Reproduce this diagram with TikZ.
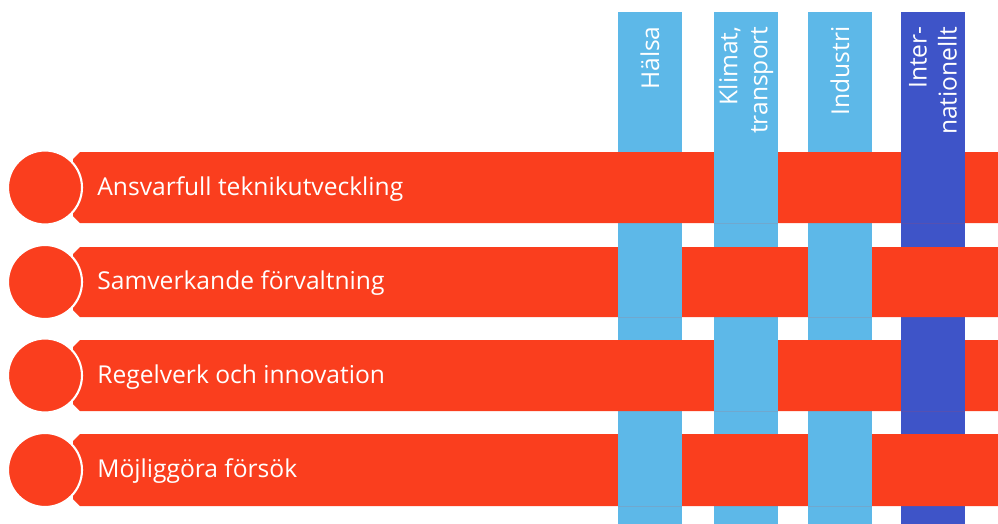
\documentclass[tikz,border=0pt]{standalone}
\usepackage{fontspec}
\setmainfont{Open Sans}
\usepackage{tikz}
\usepackage{xcolor}
\definecolor{tred}{RGB}{250,62,30}
\definecolor{tblue}{RGB}{93,184,232}
\definecolor{tdark}{RGB}{62,84,200}

\begin{document}
\begin{tikzpicture}[x=0.02cm,y=-0.02cm,
    lbl/.style={text=white,inner sep=0pt,font=\fontsize{14}{17}\selectfont},
    vlbl/.style={lbl,rotate=90,anchor=east,align=right},
    dot/.style={fill=tred,draw=white,line width=1.2pt}]
        \useasboundingbox (0,0) rectangle (998,524);
        % vertical bars
        \fill[tblue] (618,12) rectangle (682,524);
        \fill[tblue] (714,12) rectangle (778,524);
        \fill[tblue] (808,12) rectangle (872,524);
        \fill[tdark] (901,12) rectangle (965,524);
        % horizontal bars
        \fill[tred] (80,152) -- (998,152) -- (998,223) -- (80,223) -- (73,216) -- (73,159) -- cycle;
        \fill[tred] (80,247) -- (998,247) -- (998,317) -- (80,317) -- (73,310) -- (73,254) -- cycle;
        \fill[tred] (80,340) -- (998,340) -- (998,411) -- (80,411) -- (73,404) -- (73,347) -- cycle;
        \fill[tred] (80,434) -- (998,434) -- (998,506) -- (80,506) -- (73,499) -- (73,441) -- cycle;
        % blue on top of red
        \fill[tblue] (714,152) rectangle (778,223);
        \fill[tdark] (901,152) rectangle (965,223);
        \fill[tblue] (618,247) rectangle (682,317);
        \fill[tblue] (808,247) rectangle (872,317);
        \fill[tblue] (714,340) rectangle (778,411);
        \fill[tdark] (901,340) rectangle (965,411);
        \fill[tblue] (618,434) rectangle (682,506);
        \fill[tblue] (808,434) rectangle (872,506);
        % circles
        \node[dot,circle,minimum size=1.48cm,inner sep=0pt] (c1) at (45,187.5) {};
        \node[dot,circle,minimum size=1.48cm,inner sep=0pt] (c2) at (45,282) {};
        \node[dot,circle,minimum size=1.48cm,inner sep=0pt] (c3) at (45,375.5) {};
        \node[dot,circle,minimum size=1.48cm,inner sep=0pt] (c4) at (45,470) {};
        % labels
        \node[lbl,anchor=base west] (ansvar) at (97,195) {Ansvarfull teknikutveckling};
        \node[lbl,anchor=base west] (samverk) at (97,289) {Samverkande förvaltning};
        \node[lbl,anchor=base west] (regel) at (97,383) {Regelverk och innovation};
        \node[lbl,anchor=base west] (forsok) at (97,477) {Möjliggöra försök};
        \node[vlbl] (halsa) at (650,26) {Hälsa};
        \node[vlbl] (klimat) at (746,26) {Klimat,\\transport};
        \node[vlbl] (industri) at (840,26) {Industri};
        \node[vlbl] (intern) at (933,26) {Inter-\\nationellt};
    \end{tikzpicture}
\end{document}
